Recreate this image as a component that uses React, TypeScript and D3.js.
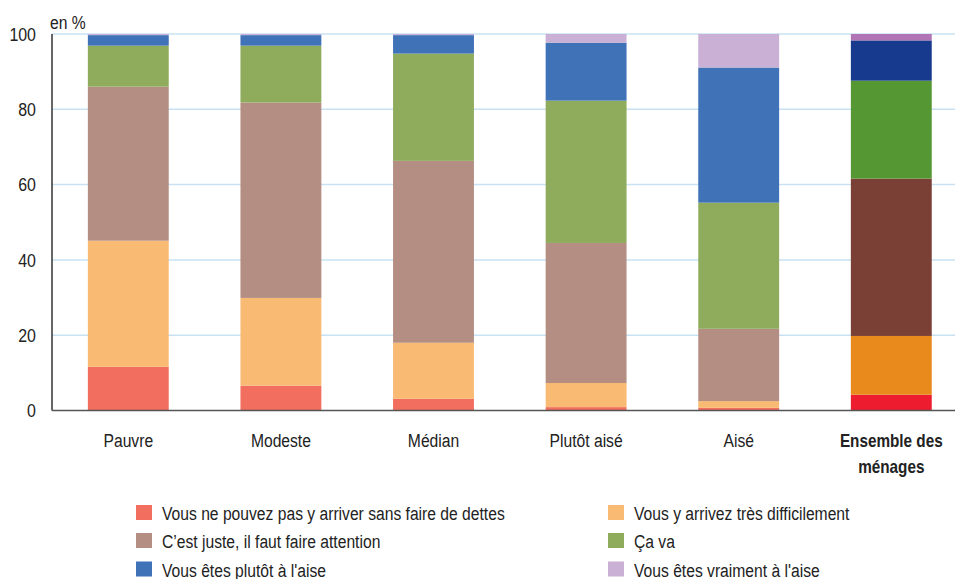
import React from "react";
import * as d3 from "d3";

const categories = ["Pauvre", "Modeste", "Médian", "Plutôt aisé", "Aisé", "Ensemble des ménages"];
const seriesNames = [
  "Vous ne pouvez pas y arriver sans faire de dettes",
  "Vous y arrivez très difficilement",
  "C’est juste, il faut faire attention",
  "Ça va",
  "Vous êtes plutôt à l'aise",
  "Vous êtes vraiment à l'aise",
];
const dettes = [11.6, 6.6, 3.1, 0.9, 0.7, 4.2];
const difficilement = [33.5, 23.3, 14.9, 6.4, 1.8, 15.6];
const juste = [40.9, 51.9, 48.3, 37.2, 19.2, 41.8];
const caVa = [10.9, 15.1, 28.5, 37.8, 33.5, 26.0];
const plutotAise = [2.8, 2.8, 4.9, 15.4, 35.9, 10.7];
const vraimentAise = [0.3, 0.3, 0.3, 2.3, 8.9, 1.7];
const yTicks = [0, 20, 40, 60, 80, 100];

const colors = ["#F26E5F", "#F9BA73", "#B48E82", "#8FAC5D", "#3F72B7", "#CBB0D5"];
const totalColors = ["#ED1C2E", "#E88A1C", "#7A4035", "#559733", "#173A8E", "#B174B5"];

const W = 955;
const H = 579;
const FONT = "'Liberation Sans', Arial, sans-serif";

function T({ x, y, children, anchor = "start", size = 18, bold = false, dy, sx = 0.87 }: any) {
  return (
    <text
      transform={`translate(${x},${y}) scale(${sx},1)`}
      textAnchor={anchor}
      fontSize={size}
      fontWeight={bold ? "bold" : "normal"}
      fill="#222"
      dy={dy}
    >
      {children}
    </text>
  );
}

export default function App() {
  const series = [dettes, difficilement, juste, caVa, plutotAise, vraimentAise];
  const rows = categories.map((c, i) => {
    const r: any = { cat: c };
    series.forEach((s, k) => (r["s" + k] = s[i]));
    return r;
  });
  const keys = series.map((_, k) => "s" + k);
  const stacked = d3.stack().keys(keys)(rows);

  const x = d3.scaleBand().domain(categories).range([52, 967.6]).paddingInner(0.47).paddingOuter(0.235);
  const y = d3.scaleLinear().domain([0, 100]).range([410.5, 34]);

  const legendPos = [
    [136, 520], [608, 520],
    [136, 548], [608, 548],
    [136, 576.5], [608, 576.5],
  ];

  return (
    <svg width={W} height={H} style={{ position: "absolute", left: 0, top: 0, fontFamily: FONT }}>
      <rect width={W} height={H} fill="#fff" />
      {yTicks.slice(1).map((t) => (
        <line key={t} x1={52} x2={W} y1={y(t)} y2={y(t)} stroke="#C9E2F3" strokeWidth={1.5} />
      ))}
      {stacked.map((layer, k) =>
        layer.map((d, i) => (
          <rect
            key={k + "-" + i}
            x={x(categories[i])}
            y={y(d[1])}
            width={x.bandwidth()}
            height={Math.max(0, y(d[0]) - y(d[1]))}
            fill={i === categories.length - 1 ? totalColors[k] : colors[k]}
          />
        ))
      )}
      <line x1={52} x2={52} y1={y(100)} y2={y(0)} stroke="#333" strokeWidth={1.5} />
      <line x1={52} x2={W} y1={y(0)} y2={y(0)} stroke="#555" strokeWidth={1.5} />
      {yTicks.map((t) => (
        <T key={t} x={36} y={y(t)} anchor="end" size={19} dy="0.36em" sx={0.84}>
          {t}
        </T>
      ))}
      <T x={50} y={29} size={18}>en %</T>
      {categories.map((c, i) => {
        const cx = (x(c) as number) + x.bandwidth() / 2;
        if (i === categories.length - 1) {
          return (
            <g key={c}>
              <T x={cx} y={447} anchor="middle" bold sx={0.85}>Ensemble des</T>
              <T x={cx} y={473} anchor="middle" bold sx={0.85}>ménages</T>
            </g>
          );
        }
        return (
          <T key={c} x={cx} y={447} anchor="middle">
            {c}
          </T>
        );
      })}
      {seriesNames.map((n, k) => (
        <g key={n}>
          <rect x={legendPos[k][0]} y={legendPos[k][1] - 15} width={16} height={15} fill={colors[k]} />
          <T x={legendPos[k][0] + 26} y={legendPos[k][1]}>
            {n}
          </T>
        </g>
      ))}
    </svg>
  );
}
